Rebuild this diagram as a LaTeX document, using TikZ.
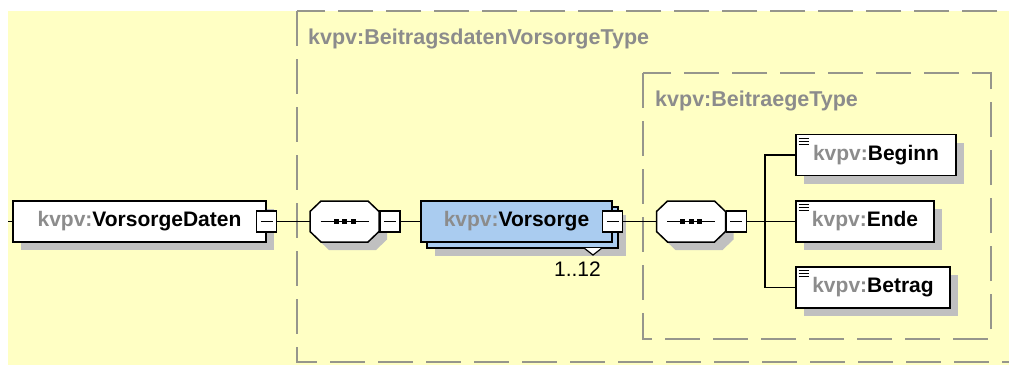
\documentclass[tikz,border=0pt]{standalone}
\usepackage{fontspec}
\setmainfont{Liberation Sans}
\usetikzlibrary{shadows}

\definecolor{bgyellow}{RGB}{255,255,196}
\definecolor{framegray}{RGB}{150,150,140}
\definecolor{kvgray}{RGB}{140,140,140}
\definecolor{shadowgray}{RGB}{192,192,192}
\definecolor{vblue}{RGB}{170,204,240}

\newcommand{\kv}[1]{\textcolor{kvgray}{kvpv:}#1}

% octagon of a sequence compositor, drawn round an empty node
\newcommand{\seqshape}[1]{%
  \fill [shadowgray] (#1.center) ++(8,8)
    +(-34.5,-10) -- +(-23.5,-20.5) -- +(23.5,-20.5) -- +(34.5,-10) --
    +(34.5,10) -- +(23.5,20.5) -- +(-23.5,20.5) -- +(-34.5,10) -- cycle;
  \filldraw [fill=white, line width=1.5pt] (#1.center)
    +(-34.5,-10) -- +(-23.5,-20.5) -- +(23.5,-20.5) -- +(34.5,-10) --
    +(34.5,10) -- +(23.5,20.5) -- +(-23.5,20.5) -- +(-34.5,10) -- cycle;
  \draw [line width=1.2pt] (#1.center) +(-24,0) -- +(24,0);
  \foreach \k in {-8.5,0,8.5}
    \fill (#1.center) ++(\k,0) +(-2.5,-2.5) rectangle +(2.5,2.5);}

\tikzset{
  frame/.style={draw=framegray, line width=1.6pt, dash pattern=on 35pt off 13pt},
  typetitle/.style={text=kvgray, font=\fontsize{21.5}{24}\selectfont\bfseries, inner sep=0pt},
  elem/.style={draw, fill=white, line width=1.5pt, minimum height=41, inner sep=0pt,
    font=\fontsize{21}{24}\selectfont\bfseries,
    drop shadow={shadow xshift=8pt, shadow yshift=-8pt, fill=shadowgray, opacity=1}},
  leaf/.style={elem, path picture={
    \foreach \k in {0,1,2}
      \draw[line width=1pt] ([xshift=2.5pt,yshift=-3.5pt-\k*3pt]path picture bounding box.north west) -- ++(10pt,0);}},
  vstack/.style={draw, fill=vblue, line width=1.5pt, minimum height=41, inner sep=0pt,
    font=\fontsize{21}{24}\selectfont\bfseries,
    drop shadow={shadow xshift=14pt, shadow yshift=-14pt, fill=shadowgray, opacity=1},
    copy shadow={shadow xshift=6pt, shadow yshift=-6pt, fill=vblue, draw=black, line width=1.5pt}},
  seqbox/.style={minimum width=69, minimum height=41, inner sep=0pt},
  minus/.style={draw, fill=white, line width=1.3pt, minimum width=20, minimum height=21, inner sep=0pt,
    path picture={\draw[line width=1.2pt] ([xshift=-6pt]path picture bounding box.center) -- ([xshift=6pt]path picture bounding box.center);}},
  link/.style={line width=1.5pt}
}

\begin{document}
\begin{tikzpicture}[x=1pt, y=-1pt]

\def\width{1009}
\def\height{365}
\path [use as bounding box] (0,0) rectangle (\width,\height);

% BACKGROUND
\fill [bgyellow] (8,11) rectangle (\width,\height);

% TYPE FRAMES
\draw [frame] (297,11) rectangle (1040,362);
\draw [frame] (643,73) rectangle (991,339);
\node [typetitle, anchor=base west] (outertitle) at (308,44) {kvpv:BeitragsdatenVorsorgeType};
\node [typetitle, anchor=base west] (innertitle) at (655,106) {kvpv:BeitraegeType};

% ELEMENTS
\coordinate (in) at (8,221.5);
\node [elem, minimum width=253] (daten) at (139.5,221.5) {\kv{VorsorgeDaten}};
\node [minus] (datenm) at (daten.east) {};

\node [seqbox] (seqa) at (344.5,221.5) {};
\seqshape{seqa}
\node [minus, anchor=west] (seqam) at (seqa.east) {};

\node [vstack, minimum width=191] (vors) at (516.5,221.5) {\kv{Vorsorge}};
\node [minus] (vorsm) at (vors.east) {};
\draw [line width=1.2pt, fill=white] (584,248) -- (593,255) -- (602,248);
\node [anchor=base east, font=\fontsize{21}{24}\selectfont, inner sep=0pt] (mult) at (601,276) {1..12};

\node [seqbox] (seqb) at (691,221.5) {};
\seqshape{seqb}
\node [minus, anchor=west] (seqbm) at (seqb.east) {};

\coordinate (fork) at (765,221.5);
\node [leaf, minimum width=160] (beginn) at (876,155) {\kv{Beginn}};
\node [leaf, minimum width=138] (ende) at (865,221.5) {\kv{Ende}};
\node [leaf, minimum width=154] (betrag) at (873,287.5) {\kv{Betrag}};

% LINKS
\draw [link] (in) -- (daten.west);
\draw [link] (datenm.east) -- (seqa.west);
\draw [link] (seqam.east) -- (vors.west);
\draw [link] (vorsm.east) -- (seqb.west);
\draw [link] (seqbm.east) -- (fork);
\draw [link] (fork) |- (beginn.west);
\draw [link] (fork) -- (ende.west);
\draw [link] (fork) |- (betrag.west);

\end{tikzpicture}
\end{document}
